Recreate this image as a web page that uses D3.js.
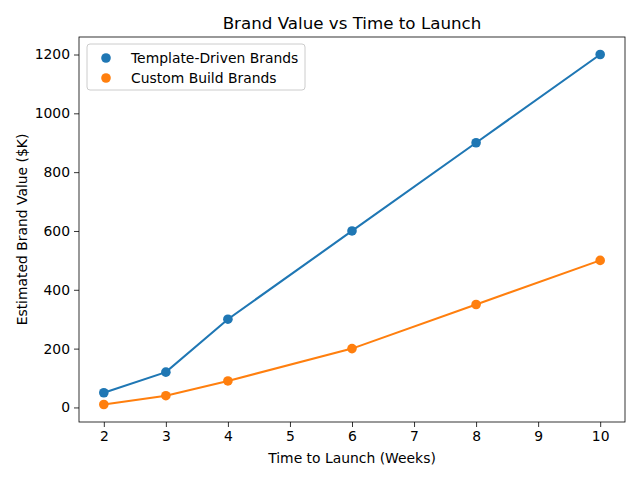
<!DOCTYPE html>
<html>
<head>
<meta charset="utf-8">
<script src="https://cdn.jsdelivr.net/npm/d3@7"></script>
<style>
body { margin: 0; background: #fff; }
text { font-family: "DejaVu Sans", sans-serif; fill: #000; }
</style>
</head>
<body>
<div id="chart"></div>
<script>
var weeks = [2, 3, 4, 6, 8, 10];
var template_values = [50, 120, 300, 600, 900, 1200];
var custom_values = [10, 40, 90, 200, 350, 500];
var series_names = ['Template-Driven Brands', 'Custom Build Brands'];
var x_ticks = [2, 3, 4, 5, 6, 7, 8, 9, 10];
var y_ticks = [0, 200, 400, 600, 800, 1000, 1200];

var chart_width = 640, chart_height = 480;
var plot_left = 79, plot_right = 625, plot_top = 37, plot_bottom = 422;
var colors = ['#1f77b4', '#ff7f0e'];

var svg = d3.select('#chart')
	.append('svg')
	.attr('width', chart_width)
	.attr('height', chart_height);

// Scales (matplotlib style 5% margins)
var x_scale = d3.scaleLinear()
	.domain([1.6, 10.4])
	.range([plot_left, plot_right]);
var y_scale = d3.scaleLinear()
	.domain([-49.5, 1259.5])
	.range([plot_bottom, plot_top]);

// Axes
var x_axis = d3.axisBottom(x_scale).tickValues(x_ticks).tickSize(5).tickPadding(4).tickFormat(d3.format('d'));
var y_axis = d3.axisLeft(y_scale).tickValues(y_ticks).tickSize(5).tickPadding(4).tickFormat(d3.format('d'));

var gx = svg.append('g')
	.attr('transform', 'translate(0,' + plot_bottom + ')')
	.call(x_axis);
var gy = svg.append('g')
	.attr('transform', 'translate(' + plot_left + ',0)')
	.call(y_axis);
[gx, gy].forEach(function(g){
	g.select('.domain').remove();
	g.selectAll('line').attr('stroke', '#000').attr('stroke-width', 0.8);
	g.selectAll('text').attr('font-size', '13.9px').attr('font-family', 'DejaVu Sans');
});

// Frame
svg.append('rect')
	.attr('x', plot_left)
	.attr('y', plot_top)
	.attr('width', plot_right - plot_left)
	.attr('height', plot_bottom - plot_top)
	.attr('fill', 'none')
	.attr('stroke', '#000')
	.attr('stroke-width', 0.8);

// Lines and points
var all_series = [template_values, custom_values];
var line = d3.line()
	.x(function(d, i){ return x_scale(weeks[i]); })
	.y(function(d){ return y_scale(d); });

all_series.forEach(function(vals, k){
	svg.append('path')
		.datum(vals)
		.attr('d', line)
		.attr('fill', 'none')
		.attr('stroke', colors[k])
		.attr('stroke-width', 2.1);
	svg.append('g').selectAll('circle')
		.data(vals)
		.enter()
		.append('circle')
		.attr('cx', function(d, i){ return x_scale(weeks[i]); })
		.attr('cy', function(d){ return y_scale(d); })
		.attr('r', 4.8)
		.attr('fill', colors[k]);
});

// Title and labels
svg.append('text')
	.attr('x', (plot_left + plot_right) / 2)
	.attr('y', 29)
	.attr('text-anchor', 'middle')
	.attr('font-size', '16.7px')
	.text('Brand Value vs Time to Launch');
svg.append('text')
	.attr('x', (plot_left + plot_right) / 2)
	.attr('y', 463)
	.attr('text-anchor', 'middle')
	.attr('font-size', '13.9px')
	.text('Time to Launch (Weeks)');
svg.append('text')
	.attr('transform', 'translate(27,' + ((plot_top + plot_bottom) / 2) + ') rotate(-90)')
	.attr('text-anchor', 'middle')
	.attr('font-size', '13.9px')
	.text('Estimated Brand Value ($K)');

// Legend
var legend = svg.append('g');
legend.append('rect')
	.attr('x', 87)
	.attr('y', 44)
	.attr('width', 218)
	.attr('height', 46)
	.attr('rx', 3)
	.attr('fill', '#fff')
	.attr('fill-opacity', 0.8)
	.attr('stroke', '#ccc')
	.attr('stroke-width', 1);
series_names.forEach(function(name, k){
	var y = 58 + k * 20;
	legend.append('circle')
		.attr('cx', 106)
		.attr('cy', y)
		.attr('r', 4.8)
		.attr('fill', colors[k]);
	legend.append('text')
		.attr('x', 131)
		.attr('y', y + 5)
		.attr('font-size', '13.9px')
		.text(name);
});
</script>
</body>
</html>
